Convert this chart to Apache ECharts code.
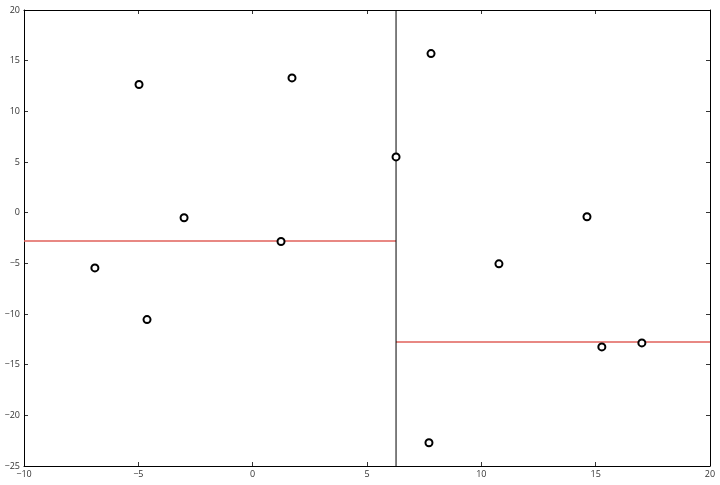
<!DOCTYPE html>
<html>
<head>
<meta charset="utf-8">
<script src="https://cdn.jsdelivr.net/npm/echarts@6/dist/echarts.min.js"></script>
<style>html,body{margin:0;padding:0;background:#fff}#c{width:720px;height:485px}</style>
</head>
<body>
<div id="c"></div>
<script>
const pointsX = [-4.97, 1.72, 7.8, 6.27, -3.0, 1.24, -6.9, -4.62, 14.62, 10.77, 15.27, 17.02, 7.71];
const pointsY = [12.65, 13.3, 15.7, 5.5, -0.5, -2.85, -5.45, -10.55, -0.4, -5.05, -13.25, -12.85, -22.7];
const splitX = 6.27;
const leftValue = -2.8;
const rightValue = -12.77;
const xRange = [-10, 20];
const yRange = [-25, 20];

const fmt = v => String(v).replace('-', '\u2212');
const chart = echarts.init(document.getElementById('c'));
const axisCommon = {
  axisLine: {show: true, onZero: false, lineStyle: {color: '#000', width: 1}},
  axisTick: {show: true, inside: true, length: 4, lineStyle: {color: '#000', width: 0.8}},
  splitLine: {show: false}
};
chart.setOption({
  animation: false,
  backgroundColor: '#fff',
  grid: {left: 24, right: 10, top: 10, bottom: 19, containLabel: false},
  xAxis: [
    Object.assign({type: 'value', min: xRange[0], max: xRange[1], interval: 5, position: 'bottom',
      axisLabel: {fontSize: 9, color: '#333', margin: 4, fontFamily: 'Open Sans', formatter: fmt}}, axisCommon),
    Object.assign({type: 'value', min: xRange[0], max: xRange[1], interval: 5, position: 'top',
      axisLabel: {show: false}}, axisCommon)
  ],
  yAxis: [
    Object.assign({type: 'value', min: yRange[0], max: yRange[1], interval: 5, position: 'left',
      axisLabel: {fontSize: 9, color: '#333', margin: 4, fontFamily: 'Open Sans', formatter: fmt}}, axisCommon),
    Object.assign({type: 'value', min: yRange[0], max: yRange[1], interval: 5, position: 'right',
      axisLabel: {show: false}}, axisCommon)
  ],
  series: [
    {type: 'line', data: [[xRange[0], leftValue], [splitX, leftValue]], symbol: 'none',
      lineStyle: {color: '#e0605a', width: 1.5}, z: 2},
    {type: 'line', data: [[splitX, rightValue], [xRange[1], rightValue]], symbol: 'none',
      lineStyle: {color: '#e0605a', width: 1.5}, z: 2},
    {type: 'line', data: [[splitX, yRange[0]], [splitX, yRange[1]]], symbol: 'none',
      lineStyle: {color: '#000', width: 1}, z: 3},
    {type: 'scatter', data: pointsX.map((x, i) => [x, pointsY[i]]), symbol: 'circle', symbolSize: 7,
      itemStyle: {color: '#fff', borderColor: '#000', borderWidth: 2, opacity: 1}, z: 5}
  ]
});
</script>
</body>
</html>
